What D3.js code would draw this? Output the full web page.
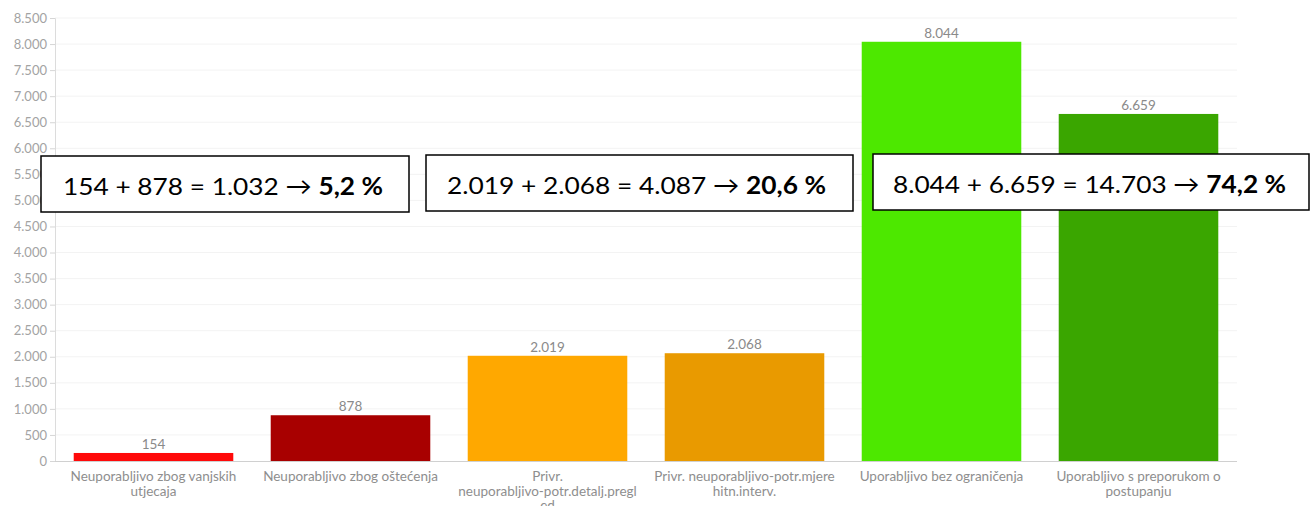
<!DOCTYPE html>
<html>
<head>
<meta charset="utf-8">
<script src="https://cdn.jsdelivr.net/npm/d3@7"></script>
<style>
  html, body { margin: 0; padding: 0; background: #fff; }
  svg { display: block; }
</style>
</head>
<body>
<svg id="chart" width="1311" height="506"></svg>
<script>
const categories = [
  "Neuporabljivo zbog vanjskih utjecaja",
  "Neuporabljivo zbog oštećenja",
  "Privr. neuporabljivo-potr.detalj.pregled",
  "Privr. neuporabljivo-potr.mjere hitn.interv.",
  "Uporabljivo bez ograničenja",
  "Uporabljivo s preporukom o postupanju"
];
const categoryLines = [
  ["Neuporabljivo zbog vanjskih", "utjecaja"],
  ["Neuporabljivo zbog oštećenja"],
  ["Privr.", "neuporabljivo-potr.detalj.pregl", "ed"],
  ["Privr. neuporabljivo-potr.mjere", "hitn.interv."],
  ["Uporabljivo bez ograničenja"],
  ["Uporabljivo s preporukom o", "postupanju"]
];
const values = [154, 878, 2019, 2068, 8044, 6659];
const barColors = ["#ff0a0a", "#a80000", "#ffa800", "#e99a00", "#4de800", "#3aa600"];
const yTicks = [0, 500, 1000, 1500, 2000, 2500, 3000, 3500, 4000, 4500, 5000, 5500, 6000, 6500, 7000, 7500, 8000, 8500];
const boxTexts = [
  { plain: "154 + 878 = 1.032 → ", bold: "5,2 %" },
  { plain: "2.019 + 2.068 = 4.087 → ", bold: "20,6 %" },
  { plain: "8.044 + 6.659 = 14.703 → ", bold: "74,2 %" }
];

const locale = d3.formatLocale({ decimal: ",", thousands: ".", grouping: [3], currency: ["", " €"] });
const fmt = locale.format(",d");

const svg = d3.select("#chart");
const x0 = 55, x1 = 1237, yTop = 18, yBottom = 461;
const labelFont = "Lato, 'Open Sans', sans-serif";

const x = d3.scaleBand().domain(categories).range([x0, x1]).paddingInner(0.19).paddingOuter(0.095);
const y = d3.scaleLinear().domain([0, 8500]).range([yBottom, yTop]);

// grid
svg.append("g").selectAll("line").data(yTicks.filter(d => d > 0)).join("line")
  .attr("x1", x0).attr("x2", x1)
  .attr("y1", d => y(d)).attr("y2", d => y(d))
  .attr("stroke", "#f3f3f3").attr("stroke-width", 1);

// y axis
const yAxis = d3.axisLeft(y).tickValues(yTicks).tickFormat(fmt).tickSize(5).tickPadding(3);
const ga = svg.append("g").attr("transform", `translate(${x0},0)`).call(yAxis);
ga.select(".domain").attr("stroke", "#dcdcdc");
ga.selectAll(".tick line").attr("stroke", "#d6d6d6");
ga.selectAll(".tick text").attr("fill", "#a3a3a3").style("font-family", labelFont).style("font-size", "13px");

// bars
svg.append("g").selectAll("rect").data(values).join("rect")
  .attr("x", (d, i) => x(categories[i]))
  .attr("width", x.bandwidth())
  .attr("y", d => y(d))
  .attr("height", d => y(0) - y(d))
  .attr("fill", (d, i) => barColors[i]);

// baseline
svg.append("line").attr("x1", x0).attr("x2", x1).attr("y1", yBottom + 0.5).attr("y2", yBottom + 0.5)
  .attr("stroke", "#d0d0d0");

// value labels
svg.append("g").selectAll("text").data(values).join("text")
  .attr("x", (d, i) => x(categories[i]) + x.bandwidth() / 2)
  .attr("y", d => y(d) - 4)
  .attr("text-anchor", "middle")
  .attr("fill", "#8a8a8a")
  .style("font-family", labelFont)
  .style("font-size", "13.5px")
  .text(d => fmt(d));

// category labels
const cl = svg.append("g").selectAll("text").data(categoryLines).join("text")
  .attr("text-anchor", "middle")
  .attr("fill", "#8e8e8e")
  .style("font-family", labelFont)
  .style("font-size", "13.5px");
cl.each(function(lines, i) {
  const t = d3.select(this);
  lines.forEach((ln, j) => {
    t.append("tspan").attr("x", x(categories[i]) + x.bandwidth() / 2)
      .attr("y", 481 + j * 14.5).text(ln);
  });
});

// annotation boxes
const boxes = [
  { x: 41, y: 156, w: 368, h: 56, tx: 63, tw: 320 },
  { x: 426, y: 155, w: 427, h: 56, tx: 447, tw: 379 },
  { x: 873, y: 154, w: 436, h: 56, tx: 893, tw: 393 }
];
const gb = svg.append("g");
boxes.forEach((b, i) => {
  gb.append("rect").attr("x", b.x).attr("y", b.y).attr("width", b.w).attr("height", b.h)
    .attr("fill", "#fff").attr("stroke", "#000").attr("stroke-width", 1.5);
  const t = gb.append("text").attr("x", b.tx).attr("y", b.y + 39)
    .attr("fill", "#000")
    .attr("textLength", b.tw)
    .attr("lengthAdjust", "spacingAndGlyphs")
    .style("font-family", "Lato, 'Open Sans', sans-serif")
    .style("font-size", "24px");
  t.append("tspan").text(boxTexts[i].plain);
  t.append("tspan").attr("font-weight", "bold").text(boxTexts[i].bold);
});
</script>
</body>
</html>
